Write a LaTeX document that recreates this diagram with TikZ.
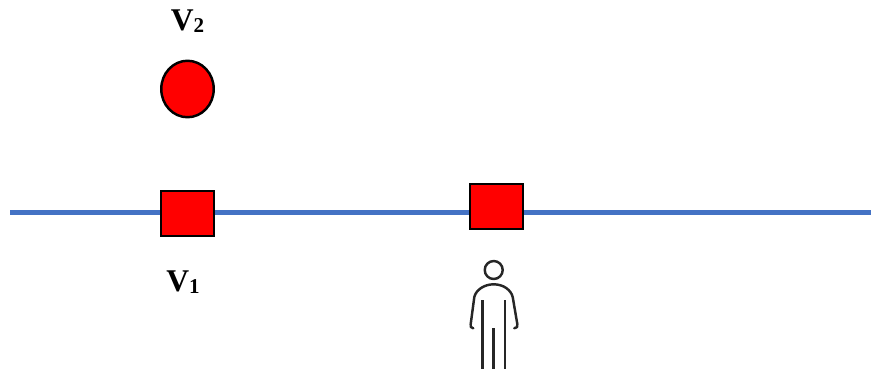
\documentclass[tikz,border=0pt]{standalone}
\usepackage{fontspec}
\setmainfont{Liberation Serif}
\usepackage{tikz}
\usetikzlibrary{shapes.geometric}
\definecolor{trackblue}{HTML}{4472C4}
\newcommand{\vlabel}[1]{{\fontsize{18}{18}\selectfont\bfseries V}\raisebox{-1.2pt}{\fontsize{12}{12}\selectfont\bfseries #1}}

\begin{document}
\begin{tikzpicture}[x=0.02cm, y=-0.02cm,
        track/.style={draw=trackblue, line width=2.9pt},
        stop/.style={draw=black, line width=1.4pt, fill=red, minimum width=1.05cm,
          minimum height=0.89cm, inner sep=0pt},
        ball/.style={ellipse, draw=black, line width=1.4pt, fill=red, minimum width=1.05cm,
          minimum height=1.13cm, inner sep=0pt},
        tag/.style={inner sep=0pt},
        figline/.style={draw=black!85, line width=1.4pt, line cap=round, line join=round}]
      \useasboundingbox (0,0) rectangle (871,370);
      \coordinate (west) at (10,212.5);
      \coordinate (east) at (871,212.5);
      \draw[track] (west) -- (east);
      \node[stop] (v1) at (187.5,213.5) {};
      \node[stop] (car) at (496.5,206.5) {};
      \node[ball] (v2) at (187.5,89) {};
      \node[tag] (v1lab) at (183,282.5) {\vlabel{1}};
      \node[tag] (v2lab) at (187.5,21) {\vlabel{2}};
      % person
      \node[circle, figline, minimum size=0.36cm, inner sep=0pt] (head) at (493.7,270) {};
      \draw[figline] (473.3,328.3) .. controls (470.5,328) and (470.3,326.5) .. (470.7,324)
        -- (474.3,297) .. controls (476,290) and (484,284.3) .. (493.7,284.3)
        .. controls (503.5,284.3) and (511,290) .. (512.7,297)
        -- (517.3,324) .. controls (517.7,326.5) and (517.3,328) .. (514.3,328.3);
      \foreach \x/\y in {482.3/300,505/300,493.7/328.3}
        \draw[figline, line cap=butt] (\x,\y) -- (\x,369);
\end{tikzpicture}
\end{document}
